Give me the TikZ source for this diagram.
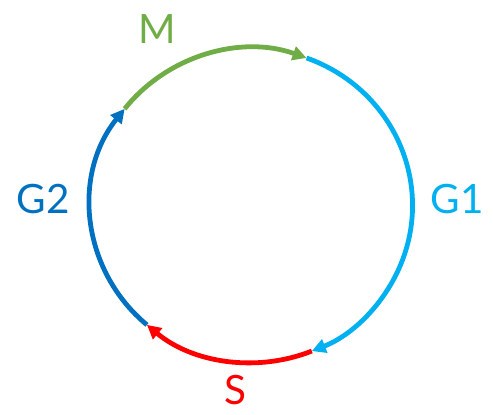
\documentclass[tikz,border=0pt]{standalone}
\usepackage{fontspec}
\setmainfont{Lato}
\usetikzlibrary{arrows.meta}
\definecolor{cgreen}{RGB}{112,173,71}
\definecolor{ccyan}{RGB}{0,176,240}
\definecolor{cred}{RGB}{255,0,0}
\definecolor{cblue}{RGB}{0,112,192}
\begin{document}
\begin{tikzpicture}[x=0.02cm,y=0.02cm,
  phase/.style={line width=4.8*0.567pt, -{Triangle[length=14*0.567pt,width=14*0.567pt]}},
  lab/.style={font=\fontsize{23}{27}\selectfont, inner sep=0pt}]
\useasboundingbox (0,0) rectangle (493,414);
\coordinate (c) at (251.5,208.5);
\draw[phase, cgreen] (c) ++(142:161 and 157) arc[start angle=142, end angle=70, x radius=161, y radius=157];
\draw[phase, ccyan] (c) ++(70:161 and 157) arc[start angle=70, end angle=-68, x radius=161, y radius=157];
\draw[phase, cred] (c) ++(-68:161 and 157) arc[start angle=-68, end angle=-130.5, x radius=161, y radius=157];
\draw[phase, cblue] (c) ++(229.5:161 and 157) arc[start angle=229.5, end angle=142, x radius=161, y radius=157];
\node[lab, text=cgreen] (m) at (157,385) {M};
\node[lab, text=cblue] (g2) at (43,215) {G2};
\node[lab, text=ccyan] (g1) at (457,215) {G1};
\node[lab, text=cred] (s) at (235,24) {S};
\end{tikzpicture}
\end{document}
